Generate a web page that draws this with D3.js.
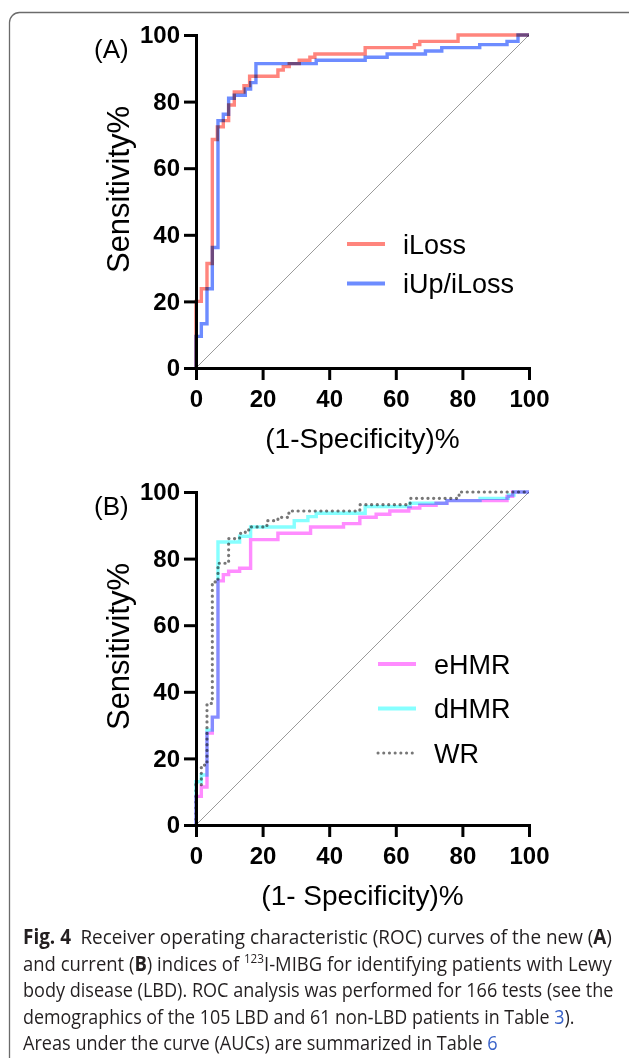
<!DOCTYPE html>
<html>
<head>
<meta charset="utf-8">
<script src="https://cdn.jsdelivr.net/npm/d3@7"></script>
<style>
  body { margin: 0; background: #fff; }
  svg { display: block; }
</style>
</head>
<body>
<svg id="fig" width="629" height="1058"></svg>
<script>
// axis ticks, both axes 0..100 %
const tickValues = [0, 20, 40, 60, 80, 100]

// panel A — new indices (step corners: 1-specificity %, sensitivity %)
const iLossFpr = [0, 0, 1.6, 3.3, 4.9, 6.4, 8.2, 9.8, 11.5, 14.4, 16.1, 24.6, 26.2, 28.0, 31.0, 34.2, 35.7, 50.8, 65.6, 67.2, 78.7, 100]
const iLossSens = [0, 20, 23.8, 31.4, 68.6, 72.4, 74.3, 79.0, 82.9, 84.8, 87.6, 89.5, 90.5, 91.4, 92.4, 93.3, 94.3, 96.2, 97.1, 98.1, 100, 100]
const iUpFpr = [0, 0, 1.6, 3.3, 4.9, 6.6, 8.2, 9.8, 11.5, 14.8, 16.4, 18.0, 36.1, 50.8, 57.4, 68.9, 73.8, 85.2, 93.4, 96.7, 100]
const iUpSens = [0, 9.5, 13.3, 23.8, 36.2, 74.3, 76.2, 81.0, 81.9, 83.8, 85.7, 91.4, 92.4, 93.3, 94.3, 95.2, 96.2, 97.1, 98.1, 100, 100]

// panel B — current indices
const eHmrFpr = [0, 0, 1.6, 3.3, 4.9, 6.6, 8.2, 9.8, 13.1, 16.4, 24.6, 34.4, 44.3, 49.2, 54.1, 58.2, 63.9, 67.2, 72.1, 75.4, 93.4, 95.1, 100]
const eHmrSens = [0, 8.6, 11.4, 27.6, 32.4, 73.3, 75.2, 76.2, 77.1, 85.7, 87.6, 89.5, 90.5, 92.4, 93.3, 94.3, 95.2, 96.0, 96.6, 97.4, 98.7, 100, 100]
const dHmrFpr = [0, 0, 1.6, 3.3, 4.9, 6.6, 13.1, 16.4, 29.5, 33.6, 36.1, 50.8, 64.3, 75.3, 85.3, 93.8, 95.5, 100]
const dHmrSens = [0, 13.0, 15.0, 28.5, 32.4, 85.0, 86.7, 89.5, 91.4, 92.6, 93.6, 95.6, 96.6, 97.4, 98.1, 99.1, 100, 100]
const wrFpr = [0, 0, 1.6, 3.3, 4.9, 6.6, 9.8, 13.1, 14.8, 16.4, 21.3, 24.6, 27.9, 49.2, 64.3, 79.0, 100]
const wrSens = [0, 12.0, 18.0, 36.5, 73.0, 78.6, 86.0, 87.6, 88.6, 89.5, 91.4, 92.4, 94.3, 96.2, 98.1, 100, 100]

const panelA = [
  { name: 'iLoss', fpr: iLossFpr, sens: iLossSens, color: '#ff857d', dash: null },
  { name: 'iUp/iLoss', fpr: iUpFpr, sens: iUpSens, color: '#6d8cff', dash: null }
]
const panelB = [
  { name: 'eHMR', fpr: eHmrFpr, sens: eHmrSens, color: '#ff8cff', dash: null },
  { name: 'dHMR', fpr: dHmrFpr, sens: dHmrSens, color: '#86ffff', dash: null },
  { name: 'WR', fpr: wrFpr, sens: wrSens, color: '#777777', dash: '0.1 5.6' }
]

const svg = d3.select('#fig')
const font = '"Liberation Sans", Arial, sans-serif'

// outer frame of the figure box
svg.append('rect')
  .attr('x', 9.5).attr('y', 12.5)
  .attr('width', 640).attr('height', 1080)
  .attr('rx', 10)
  .attr('fill', 'none').attr('stroke', '#6b6b6b').attr('stroke-width', 1.3)

const x = d3.scaleLinear().domain([0, 100]).range([196, 529])

function drawPanel (top, letter, series, legendTop, legendX, legendGap, xTitle) {
  const y = d3.scaleLinear().domain([0, 100]).range([top + 333, top])
  const g = svg.append('g')

  // chance line
  g.append('line')
    .attr('x1', x(0)).attr('y1', y(0)).attr('x2', x(100)).attr('y2', y(100))
    .attr('stroke', '#8f8f8f').attr('stroke-width', 0.9)

  const line = d3.line()
    .x(d => x(d[0]))
    .y(d => y(d[1]))
    .curve(d3.curveStepAfter)

  series.forEach(s => {
    const pts = s.fpr.map((v, i) => [v, s.sens[i]])
    g.append('path')
      .datum(pts)
      .attr('d', line)
      .attr('fill', 'none')
      .attr('stroke', s.color)
      .attr('stroke-width', s.dash ? 3.2 : 3.4)
      .attr('stroke-linecap', s.dash ? 'round' : 'butt')
      .attr('stroke-dasharray', s.dash)
      .style('mix-blend-mode', 'multiply')
  })

  // axes
  const yAxis = d3.axisLeft(y).tickValues(tickValues).tickSize(12).tickSizeOuter(0).tickPadding(4)
  const xAxis = d3.axisBottom(x).tickValues(tickValues).tickSize(12).tickSizeOuter(0).tickPadding(10)

  const ya = g.append('g').attr('transform', `translate(${x(0)},0)`).call(yAxis)
  const xa = g.append('g').attr('transform', `translate(0,${y(0)})`).call(xAxis)
  ;[ya, xa].forEach(a => {
    a.select('.domain').attr('stroke', '#000').attr('stroke-width', 3).attr('stroke-linecap', 'square')
    a.selectAll('.tick line').attr('stroke', '#000').attr('stroke-width', 3)
    a.selectAll('.tick text')
      .attr('fill', '#000')
      .style('font-family', font)
      .style('font-weight', 'bold')
      .style('font-size', '24px')
  })

  // panel letter
  g.append('text')
    .attr('x', 94).attr('y', top + 23)
    .style('font-family', font).style('font-size', '26px')
    .text(letter)

  // axis titles
  g.append('text')
    .attr('transform', `translate(129,${y(50) - 12}) rotate(-90)`)
    .attr('text-anchor', 'middle')
    .style('font-family', font).style('font-size', '31px')
    .text('Sensitivity%')

  g.append('text')
    .attr('x', x(50)).attr('y', y(0) + 80)
    .attr('text-anchor', 'middle')
    .style('font-family', font).style('font-size', '28px')
    .text(xTitle)

  // legend
  const lg = g.selectAll('.leg').data(series).enter().append('g')
    .attr('transform', (d, i) => `translate(${legendX},${legendTop + i * legendGap})`)
  lg.append('line')
    .attr('x1', 0).attr('x2', 38)
    .attr('stroke', d => d.color)
    .attr('stroke-width', d => d.dash ? 3 : 4)
    .attr('stroke-linecap', d => d.dash ? 'round' : 'butt')
    .attr('stroke-dasharray', d => d.dash)
  lg.append('text')
    .attr('x', 56).attr('y', 9.5)
    .style('font-family', font).style('font-size', '27px')
    .text(d => d.name)
}

drawPanel(35, '(A)', panelA, 244, 347, 39.5, '(1-Specificity)%')
drawPanel(492, '(B)', panelB, 664, 378, 44.5, '(1- Specificity)%')

// caption
const capFont = '"Open Sans", "Noto Sans", sans-serif'
const capLines = [
  [['Fig. 4', 'bold'], ['\u2002Receiver operating characteristic (ROC) curves of the new ('], ['A', 'bold'], [')']],
  [['and current ('], ['B', 'bold'], [') indices of '], ['123', 'sup'], ['I-MIBG for identifying patients with Lewy']],
  [['body disease (LBD). ROC analysis was performed for 166 tests (see the']],
  [['demographics of the 105 LBD and 61 non-LBD patients in Table '], ['3', 'link'], [').']],
  [['Areas under the curve (AUCs) are summarized in Table '], ['6', 'link']]
]
const capWidths = [589, 589, 591, 552, 475]
const capTop = 944
const capGap = 26.6

capLines.forEach((parts, li) => {
  const t = svg.append('text')
    .style('font-family', capFont)
    .style('font-size', '20.5px')
    .attr('fill', '#231f20')
  parts.forEach(([txt, kind]) => {
    const sp = t.append('tspan').text(txt)
    if (kind === 'bold') sp.style('font-weight', 'bold')
    if (kind === 'link') sp.attr('fill', '#3a63c9')
    if (kind === 'sup') sp.style('font-size', '13px').attr('dy', -8)
    if (txt.startsWith('I-MIBG')) sp.attr('dy', 8)
  })
  const w = t.node().getComputedTextLength()
  t.attr('transform', `translate(23,${capTop + li * capGap}) scale(${capWidths[li] / w},1)`)
})
</script>
</body>
</html>
